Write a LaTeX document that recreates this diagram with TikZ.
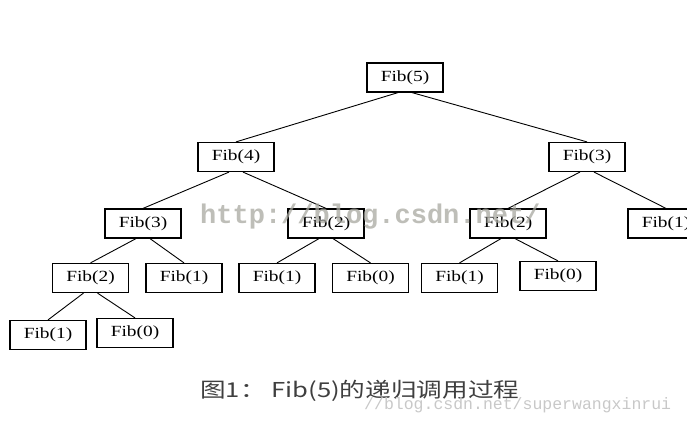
\documentclass[tikz,border=0pt]{standalone}
\usepackage{fontspec}
\setmainfont{Liberation Serif}[FakeStretch=1.25]
\newfontfamily\cjkfont{Noto Sans CJK SC}[FakeStretch=1.25]
\newfontfamily\markfont{Liberation Mono}
\usetikzlibrary{positioning}
\definecolor{Caption}{HTML}{3F3F3F}
\definecolor{Mark}{HTML}{A8A8A0}
\definecolor{MarkLight}{HTML}{C8C8C8}

\begin{document}
\begin{tikzpicture}[x=1pt,y=1pt,
  fib/.style={draw,line width=1.2pt,fill=white,minimum width=76pt,minimum height=29pt,
    inner sep=0pt,font=\fontsize{15.5}{15.5}\selectfont},
  edge/.style={line width=0.9pt}]
\useasboundingbox (0,0) rectangle (687,-427);
% call tree
\node[fib] (f5) at (405,-77.5) {Fib(5)};
\node[fib] (f4) at (236,-157) {Fib(4)};
\node[fib] (f3r) at (587,-157) {Fib(3)};
\node[fib] (f3) at (143,-223.5) {Fib(3)};
\node[fib] (f2a) at (326,-223.5) {Fib(2)};
\node[fib] (f2b) at (508,-223.5) {Fib(2)};
\node[fib] (f1r) at (666,-223.5) {Fib(1)};
\node[fib] (f2c) at (90.5,-278) {Fib(2)};
\node[fib] (f1a) at (184,-278) {Fib(1)};
\node[fib] (f1b) at (277,-278) {Fib(1)};
\node[fib] (f0a) at (370.5,-278) {Fib(0)};
\node[fib] (f1c) at (459.5,-278) {Fib(1)};
\node[fib] (f0b) at (558,-276) {Fib(0)};
\node[fib] (f1d) at (48,-335) {Fib(1)};
\node[fib] (f0c) at (135,-333) {Fib(0)};
\foreach \p/\c/\s in {f5/f4/-1,f5/f3r/1,f4/f3/-1,f4/f2a/1,f3r/f2b/-1,f3r/f1r/1,
  f3/f2c/-1,f3/f1a/1,f2a/f1b/-1,f2a/f0a/1,f2b/f1c/-1,f2b/f0b/1,f2c/f1d/-1,f2c/f0c/1}
  \draw[edge] ([xshift=\s*7pt]\p.south) -- (\c.north);
% watermarks and caption
\node[anchor=west,inner sep=0pt,text=Mark,font=\markfont\bfseries\fontsize{27}{27}\selectfont,opacity=0.75]
  (mark) at (200,-217) {http://blog.csdn.net/};
\node[anchor=west,inner sep=0pt,text=Caption,font=\cjkfont\fontsize{20.5}{20.5}\selectfont]
  (cap) at (200,-391) {图1： Fib(5)的递归调用过程};
\node[anchor=west,inner sep=0pt,text=MarkLight,font=\markfont\fontsize{16.5}{16.5}\selectfont]
  (mark2) at (364,-405) {//blog.csdn.net/superwangxinrui};
\end{tikzpicture}
\end{document}
